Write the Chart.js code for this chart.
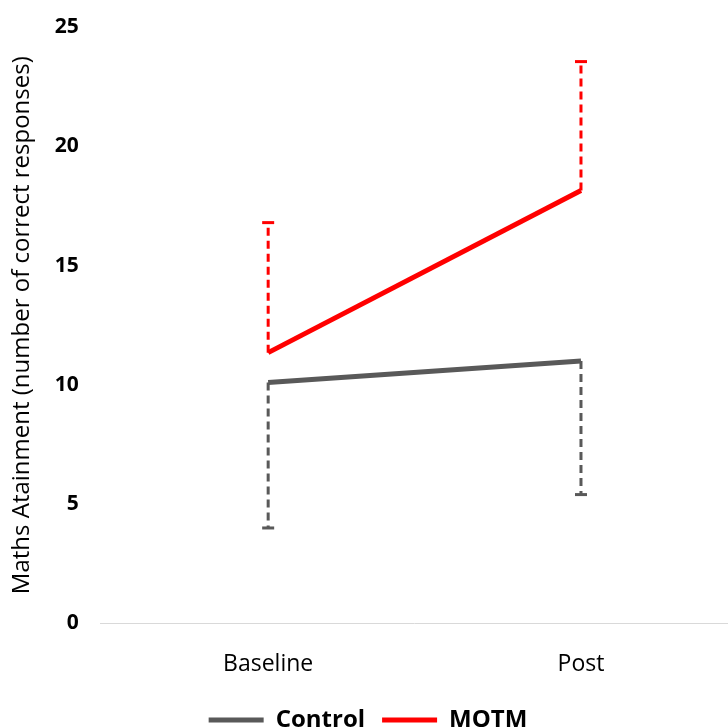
<!DOCTYPE html>
<html>
<head>
<meta charset="utf-8">
<script src="https://cdn.jsdelivr.net/npm/chart.js@4"></script>
<style>
  html, body { margin: 0; padding: 0; background: #fff; }
  #wrap { width: 728px; height: 727px; }
</style>
</head>
<body>
<div id="wrap"><canvas id="attainmentChart"></canvas></div>
<script>
// Chart data
var categories = ['Baseline', 'Post'];
var seriesNames = ['Control', 'MOTM'];
var controlMeans = [10.1, 11.0];
var controlErrors = [6.1, 5.6];   // drawn downward
var motmMeans = [11.35, 18.15];
var motmErrors = [5.45, 5.4];     // drawn upward
var yTicks = [0, 5, 10, 15, 20, 25];

function toPoints(values) {
    return values.map(function (v, i) { return { x: i, y: v }; });
}

// Draw one-sided dashed error bars with a cap
var errorBarPlugin = {
    id: 'errorBars',
    beforeDatasetsDraw: function (chart) {
        var ctx = chart.ctx;
        var xScale = chart.scales.x;
        var yScale = chart.scales.y;
        chart.data.datasets.forEach(function (ds) {
            ds.data.forEach(function (pt, i) {
                var err = ds.errors[i] * ds.errorDir;
                var px = xScale.getPixelForValue(pt.x);
                var y0 = yScale.getPixelForValue(pt.y);
                var y1 = yScale.getPixelForValue(pt.y + err);
                ctx.save();
                ctx.strokeStyle = ds.borderColor;
                ctx.lineWidth = 3;
                ctx.setLineDash([8, 5]);
                ctx.beginPath();
                ctx.moveTo(px, y0);
                ctx.lineTo(px, y1);
                ctx.stroke();
                ctx.setLineDash([]);
                ctx.beginPath();
                ctx.moveTo(px - 6, y1);
                ctx.lineTo(px + 6, y1);
                ctx.stroke();
                ctx.restore();
            });
        });
    }
};

var ctx = document.getElementById('attainmentChart').getContext('2d');
var chart = new Chart(ctx, {
    type: 'line',
    data: {
        datasets: [{
            label: seriesNames[0],
            data: toPoints(controlMeans),
            errors: controlErrors,
            errorDir: -1,
            borderColor: '#595959',
            backgroundColor: '#595959',
            borderWidth: 5,
            pointRadius: 0,
            fill: false
        }, {
            label: seriesNames[1],
            data: toPoints(motmMeans),
            errors: motmErrors,
            errorDir: 1,
            borderColor: '#ff0000',
            backgroundColor: '#ff0000',
            borderWidth: 5,
            pointRadius: 0,
            fill: false
        }]
    },
    options: {
        responsive: true,
        maintainAspectRatio: false,
        animation: false,
        layout: { padding: { left: 8, right: 0, top: 27, bottom: -15 } },
        scales: {
            x: {
                type: 'linear',
                min: -0.535,
                max: 1.47,
                afterBuildTicks: function (scale) {
                    scale.ticks = categories.map(function (c, i) { return { value: i }; });
                },
                afterFit: function (scale) {
                    scale.height -= 6;
                },
                ticks: {
                    callback: function (value) { return categories[value]; },
                    color: '#000',
                    padding: 19,
                    font: { family: 'Open Sans', size: 23 }
                },
                grid: { display: false },
                border: { color: '#d9d9d9', width: 1 }
            },
            y: {
                min: 0,
                max: 25,
                afterBuildTicks: function (scale) {
                    scale.ticks = yTicks.map(function (v) { return { value: v }; });
                },
                ticks: {
                    color: '#000',
                    padding: 14,
                    font: { family: 'Open Sans', size: 21, weight: 'bold' }
                },
                grid: { display: false },
                border: { display: false },
                title: {
                    display: true,
                    text: 'Maths Atainment (number of correct responses)',
                    color: '#000',
                    padding: { top: 0, bottom: 4 },
                    font: { family: 'Open Sans', size: 24 }
                }
            }
        },
        plugins: {
            legend: {
                position: 'bottom',
                labels: {
                    usePointStyle: true,
                    pointStyle: 'line',
                    pointStyleWidth: 55,
                    color: '#000',
                    padding: 17,
                    font: { family: 'Open Sans', size: 24, weight: 'bold' }
                }
            },
            tooltip: { enabled: false }
        }
    },
    plugins: [errorBarPlugin]
});
</script>
</body>
</html>
